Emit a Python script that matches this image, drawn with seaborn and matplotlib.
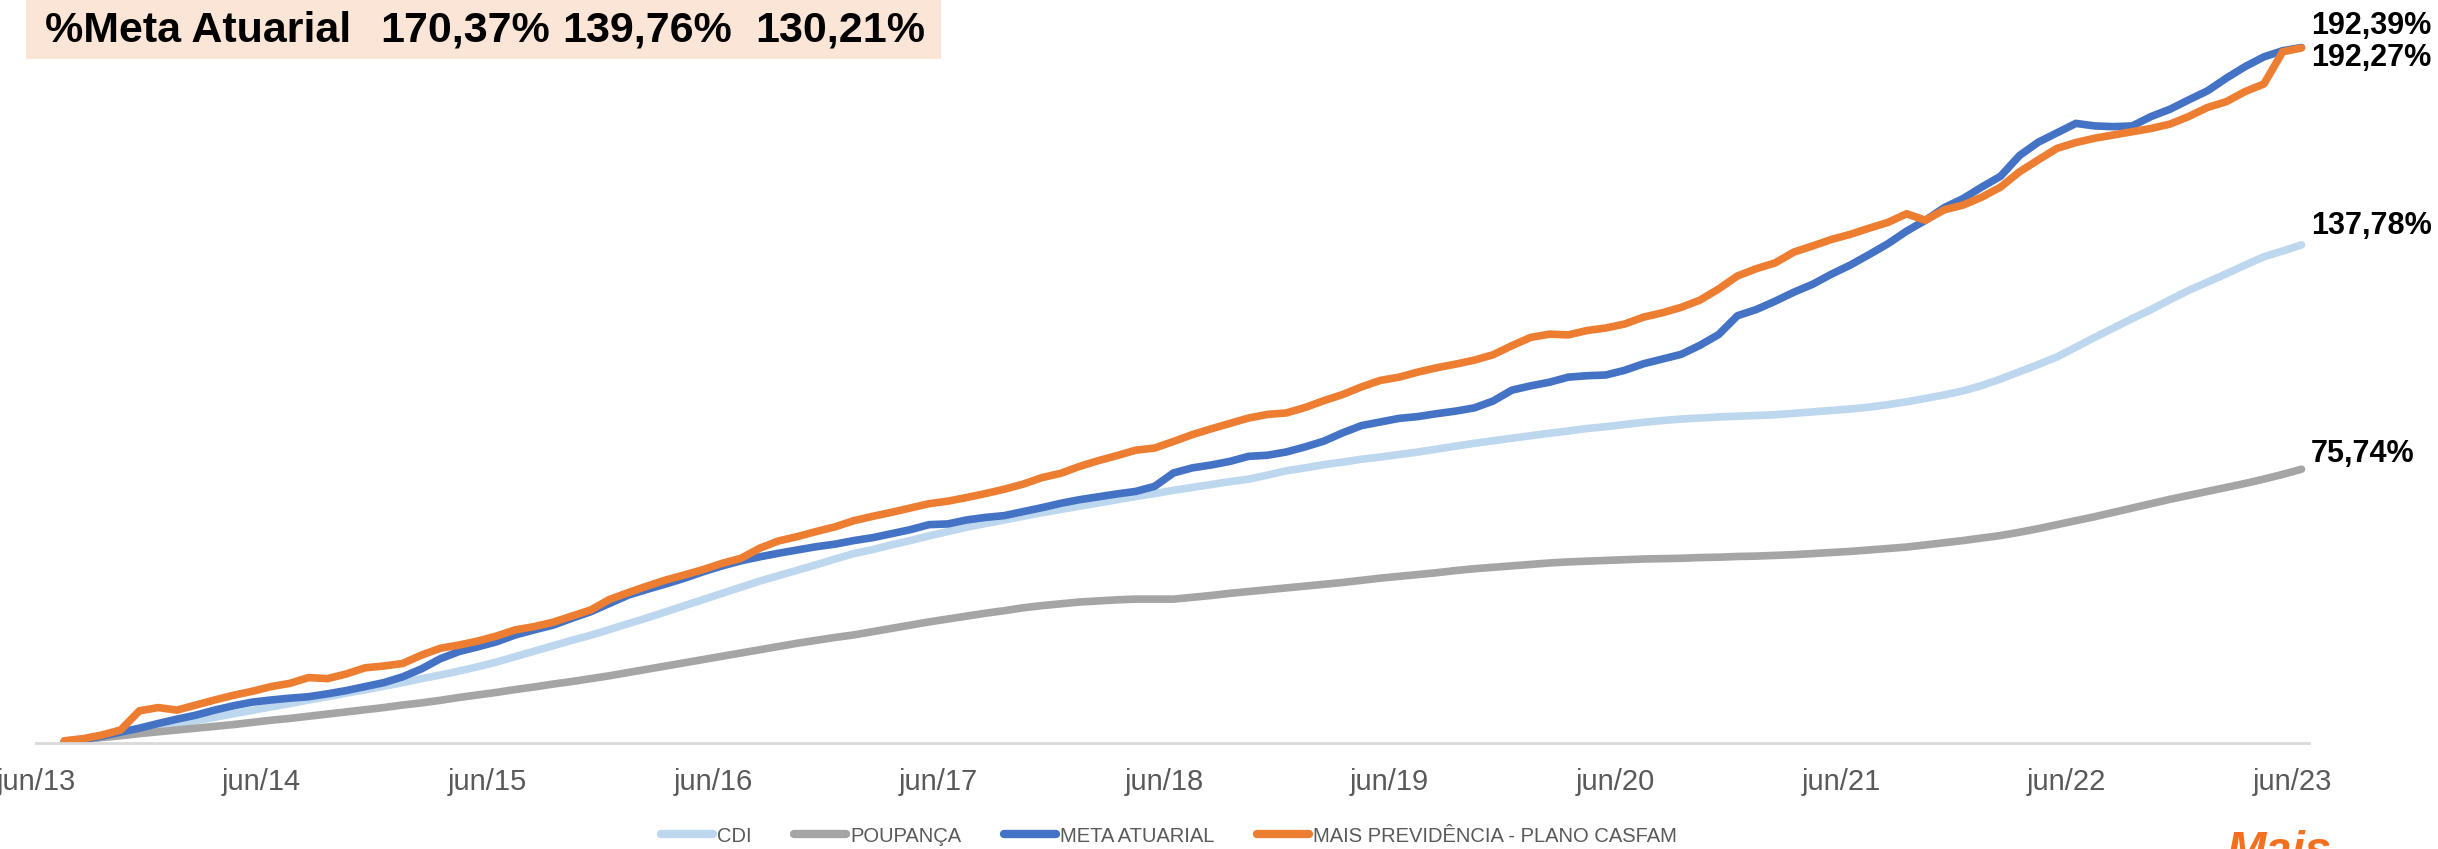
import numpy as np
import pandas as pd
import matplotlib
matplotlib.use("Agg")
import matplotlib.pyplot as plt
from matplotlib.patches import Rectangle
import seaborn as sns

# months counted from jun/13 (jul/13 = 1 ... jun/23 = 120)
months = list(range(1, 121))

cdi = [0.4, 1.0, 1.7, 2.6, 3.5, 4.4, 5.3, 6.2, 7.1, 8.1, 9.0, 10.0, 10.9, 11.9, 12.8, 13.8, 14.7, 15.7, 16.7, 17.8,
       18.8, 19.9, 21.1, 22.4, 23.9, 25.4, 26.9, 28.4, 29.8, 31.4, 33.0, 34.6, 36.3, 38.0, 39.7, 41.4, 43.1, 44.8, 46.3, 47.8,
       49.3, 50.9, 52.4, 53.5, 54.8, 56.0, 57.3, 58.5, 59.7, 60.7, 61.7, 62.7, 63.7, 64.6, 65.5, 66.4, 67.3, 68.2, 69.0, 69.9,
       70.7, 71.5, 72.3, 73.0, 74.1, 75.3, 76.1, 77.0, 77.7, 78.5, 79.1, 79.8, 80.5, 81.3, 82.1, 82.9, 83.6, 84.3, 85.0, 85.7,
       86.3, 87.0, 87.5, 88.1, 88.7, 89.2, 89.6, 89.9, 90.2, 90.4, 90.6, 90.8, 91.2, 91.6, 92.0, 92.4, 92.9, 93.6, 94.4, 95.3,
       96.3, 97.4, 98.9, 100.7, 102.7, 104.7, 106.8, 109.5, 112.2, 114.8, 117.4, 119.9, 122.6, 125.2, 127.5, 129.8, 132.2, 134.5, 136.1, 137.78]

poupanca = [0.4, 0.9, 1.5, 2.0, 2.6, 3.1, 3.6, 4.1, 4.6, 5.1, 5.7, 6.3, 6.8, 7.4, 8.0, 8.6, 9.2, 9.8, 10.5, 11.1,
            11.8, 12.6, 13.3, 14.0, 14.8, 15.5, 16.3, 17.0, 17.8, 18.6, 19.5, 20.4, 21.3, 22.2, 23.1, 24.0, 24.9, 25.8, 26.7, 27.6,
            28.4, 29.2, 29.9, 30.8, 31.7, 32.6, 33.5, 34.3, 35.1, 35.9, 36.6, 37.4, 38.0, 38.5, 39.0, 39.3, 39.6, 39.8, 39.8, 39.8,
            40.3, 40.8, 41.4, 41.9, 42.4, 42.9, 43.4, 43.9, 44.4, 45.0, 45.6, 46.1, 46.6, 47.1, 47.7, 48.2, 48.6, 49.0, 49.4, 49.8,
            50.1, 50.3, 50.5, 50.7, 50.9, 51.0, 51.1, 51.3, 51.4, 51.6, 51.7, 51.9, 52.1, 52.4, 52.7, 53.0, 53.4, 53.8, 54.2, 54.8,
            55.4, 56.0, 56.7, 57.4, 58.3, 59.3, 60.4, 61.5, 62.6, 63.8, 65.0, 66.2, 67.4, 68.5, 69.6, 70.7, 71.8, 73.0, 74.3, 75.74]

meta = [0.4, 1.0, 1.9, 3.0, 4.1, 5.4, 6.6, 7.7, 9.1, 10.3, 11.3, 11.9, 12.4, 12.8, 13.6, 14.5, 15.6, 16.7, 18.3, 20.5,
        23.3, 25.3, 26.6, 28.0, 29.9, 31.3, 32.6, 34.5, 36.3, 38.6, 40.9, 42.5, 44.0, 45.6, 47.4, 49.0, 50.4, 51.5, 52.5, 53.4,
        54.3, 55.0, 56.0, 56.8, 57.9, 59.0, 60.4, 60.6, 61.7, 62.4, 62.9, 64.0, 65.1, 66.3, 67.3, 68.1, 68.9, 69.6, 71.0, 74.7,
        76.1, 76.9, 77.9, 79.3, 79.6, 80.5, 81.9, 83.5, 85.8, 87.8, 88.8, 89.8, 90.3, 91.1, 91.8, 92.7, 94.6, 97.6, 98.8, 99.8,
        101.2, 101.6, 101.8, 103.1, 104.9, 106.2, 107.5, 110.0, 113.0, 118.2, 119.9, 122.2, 124.7, 126.9, 129.7, 132.2, 135.1, 138.1, 141.6, 144.6,
        148.1, 150.6, 153.8, 156.8, 162.5, 166.2, 168.8, 171.4, 170.7, 170.5, 170.7, 173.3, 175.3, 177.9, 180.4, 183.9, 187.1, 189.8, 191.5, 192.39]

casfam = [0.6, 1.2, 2.2, 3.6, 8.9, 9.8, 9.1, 10.5, 11.9, 13.2, 14.3, 15.6, 16.5, 18.1, 17.8, 19.1, 20.8, 21.3, 22.0, 24.3,
          26.2, 27.1, 28.2, 29.6, 31.3, 32.2, 33.4, 35.1, 36.8, 39.7, 41.6, 43.4, 45.1, 46.5, 48.0, 49.7, 51.1, 53.9, 55.9, 57.1,
          58.5, 59.8, 61.5, 62.7, 63.8, 65.0, 66.2, 66.9, 67.9, 69.0, 70.2, 71.6, 73.4, 74.6, 76.5, 78.1, 79.5, 81.0, 81.6, 83.4,
          85.3, 86.9, 88.4, 89.9, 90.9, 91.3, 92.8, 94.7, 96.4, 98.5, 100.3, 101.2, 102.6, 103.8, 104.8, 105.9, 107.4, 109.9, 112.2, 113.1,
          112.9, 114.1, 114.8, 115.9, 117.8, 119.0, 120.5, 122.5, 125.6, 129.2, 131.2, 132.8, 135.8, 137.5, 139.3, 140.7, 142.4, 144.0, 146.4, 144.6,
          147.5, 148.8, 151.0, 153.8, 158.0, 161.3, 164.5, 166.1, 167.3, 168.2, 169.1, 170.0, 171.2, 173.3, 175.8, 177.4, 180.2, 182.3, 191.2, 192.27]

series_names = ["CDI", "POUPANÇA", "META ATUARIAL", "MAIS PREVIDÊNCIA - PLANO CASFAM"]
series_colors = ["#bdd7ee", "#a5a5a5", "#4472c4", "#ed7d31"]
end_labels = ["137,78%", "75,74%", "192,39%", "192,27%"]

tick_pos = [0, 12, 24, 36, 48, 60, 72, 84, 96, 108, 120]
tick_labels = ["jun/13", "jun/14", "jun/15", "jun/16", "jun/17", "jun/18",
               "jun/19", "jun/20", "jun/21", "jun/22", "jun/23"]

header = ["%Meta Atuarial", "170,37%", "139,76%", "130,21%"]

# long table for seaborn (points sit in the middle of each month)
frames = []
for name, vals in zip(series_names, [cdi, poupanca, meta, casfam]):
    frames.append(pd.DataFrame({"mes": np.array(months) + 0.5, "valor": vals, "serie": name}))
df = pd.concat(frames, ignore_index=True)

sns.set_style("white")
plt.rcParams["font.family"] = ["Liberation Sans", "DejaVu Sans"]

W, H = 2438, 849
fig = plt.figure(figsize=(W / 100, H / 100), dpi=100)
ax = fig.add_axes([36 / W, (H - 743) / H, (2309 - 36) / W, (743 - 20) / H])

sns.lineplot(data=df, x="mes", y="valor", hue="serie", hue_order=series_names,
             palette=dict(zip(series_names, series_colors)), linewidth=5.5,
             errorbar=None, ax=ax, solid_capstyle="round", solid_joinstyle="round")

ax.set_xlim(0, 120.9)
ax.set_ylim(0, 200)
ax.set_xlabel("")
ax.set_ylabel("")
ax.set_yticks([])
ax.set_xticks(tick_pos)
ax.set_xticklabels(tick_labels, fontsize=21, color="#595959")
ax.tick_params(axis="x", length=9, width=1.3, color="#d9d9d9", pad=9)
for s in ["left", "right", "top"]:
    ax.spines[s].set_visible(False)
ax.spines["bottom"].set_color("#d9d9d9")
ax.spines["bottom"].set_linewidth(2)

# values at the end of each line
label_y = [143.0, 79.9, 198.3, 189.5]
for txt, yv in zip(end_labels, label_y):
    ax.text(121.0, yv, txt, fontsize=22, fontweight="bold", color="black",
            ha="left", va="center", clip_on=False)

handles, labels = ax.get_legend_handles_labels()
ax.get_legend().remove()
for h in handles:
    h.set_linewidth(6)
fig.legend(handles, labels, loc="center", bbox_to_anchor=(1169 / W, (H - 836) / H),
           ncol=4, frameon=False, fontsize=14.5, handlelength=2.6, handletextpad=0.2,
           columnspacing=2.1, labelcolor="#595959", borderpad=0.1)

# header box
fig.patches.append(Rectangle((26 / W, (H - 59) / H), (941 - 26) / W, 59 / H,
                             transform=fig.transFigure, facecolor="#fbe5d6",
                             edgecolor="none", zorder=0))
header_x = [45, 380, 562, 755]
for hx, txt in zip(header_x, header):
    fig.text(hx / W, (H - 31) / H, txt, fontsize=31, fontweight="bold",
             color="black", ha="left", va="center")

# logo peeking at the bottom edge
fig.text(2226 / W, (H - 830) / H, "Mais", fontsize=34, fontweight="bold",
         fontstyle="italic", color="#f37021", ha="left", va="top")

fig.savefig("out.png", dpi=100)
